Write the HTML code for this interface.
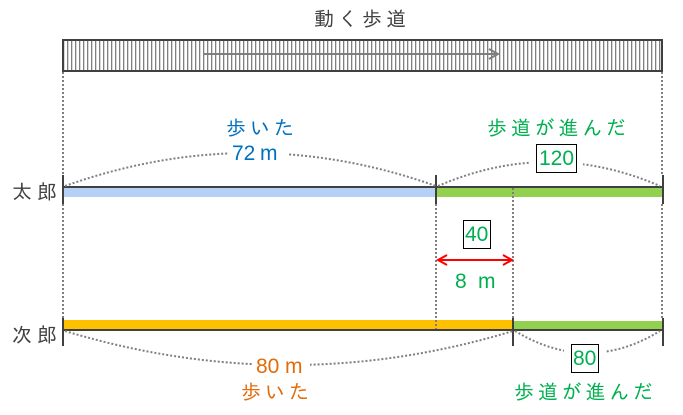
<!DOCTYPE html>
<html lang="ja"><head><meta charset="utf-8"><style>
html,body{margin:0;padding:0;background:#fff;width:683px;height:415px;overflow:hidden}
svg{display:block}
text{font-family:"IPAGothic","Noto Sans CJK JP",sans-serif;font-size:20px}
.m{font-family:"Liberation Sans",sans-serif;font-size:21px}
</style></head><body>
<svg width="683" height="415" viewBox="0 0 683 415" xmlns="http://www.w3.org/2000/svg">
<defs><pattern id="s" x="63" y="0" width="4" height="10" patternUnits="userSpaceOnUse"><rect x="0" y="0" width="1.3" height="10" fill="#7f7f7f"/></pattern></defs>
<rect x="62" y="39" width="601" height="33" fill="url(#s)"/>
<rect x="62" y="39" width="1" height="33" fill="#404040"/>
<g fill="none" stroke="#404040" stroke-width="2" shape-rendering="crispEdges"><rect x="63" y="40" width="599" height="31"/></g>
<g fill="none" stroke="#7f7f7f" stroke-width="2"><path d="M204 54H498M489 49L498 54L489 59"/></g>
<g stroke="#7f7f7f" stroke-width="2" stroke-dasharray="2 2" fill="none" shape-rendering="crispEdges">
<path d="M63 72V175M662 72V175M63 204V318M662 204V318M436 204V330M513 188V320"/>
</g>
<rect x="63" y="188" width="373" height="9" fill="#b4d1f5"/>
<rect x="436" y="188" width="227" height="9" fill="#92d050"/>
<rect x="63" y="320" width="450" height="9" fill="#ffc000"/>
<rect x="513" y="321" width="150" height="8" fill="#92d050"/>
<g stroke="#7f7f7f" stroke-width="2" stroke-dasharray="2 2" fill="none" shape-rendering="crispEdges"><path d="M436 320V330"/><path d="M513 188V197"/></g>
<g fill="#404040" shape-rendering="crispEdges">
<rect x="63" y="186" width="600" height="2"/><rect x="63" y="329" width="600" height="2"/>
<rect x="62" y="175" width="2" height="29"/><rect x="435" y="175" width="2" height="29"/><rect x="662" y="175" width="2" height="29"/>
<rect x="62" y="318" width="2" height="28"/><rect x="512" y="318" width="2" height="28"/><rect x="662" y="318" width="2" height="28"/>
</g>
<g fill="none" stroke="#7f7f7f" stroke-width="2" stroke-dasharray="2 2">
<path d="M65 186Q250 120 436 186"/><path d="M438 186Q549 138 660 186"/>
<path d="M65 331Q289 399 513 331"/><path d="M515 331Q588 375 660 331"/>
</g>
<rect x="228" y="142" width="60" height="22" fill="#fff"/>
<rect x="252" y="355" width="58" height="22" fill="#fff"/>
<rect x="530" y="144" width="53" height="30" fill="#fff"/>
<rect x="564" y="343" width="41" height="30" fill="#fff"/>
<g fill="#fff" stroke="#000" stroke-width="1" shape-rendering="crispEdges">
<rect x="536.5" y="144.5" width="40" height="28"/><rect x="463.5" y="220.5" width="27" height="28"/><rect x="571.5" y="344.5" width="27" height="28"/>
</g>
<g fill="none" stroke="#ff0000" stroke-width="2"><path d="M438 260H512M447 255L438 260L447 265M503 255L512 260L503 265"/></g>
<g fill="#404040">
<text x="314" y="26" letter-spacing="4">動く歩道</text>
<text x="12" y="199" letter-spacing="5">太郎</text>
<text x="12" y="342" letter-spacing="5">次郎</text>
</g>
<g fill="#0070c0">
<text x="226" y="135" letter-spacing="4">歩いた</text>
<text class="m" x="232" y="160">72</text>
<text class="m" x="260" y="160">m</text>
</g>
<g fill="#00b050">
<text x="487" y="135" letter-spacing="3.8">歩道が進んだ</text>
<text x="514" y="399" letter-spacing="3.8">歩道が進んだ</text>
<text class="m" x="539" y="165">120</text>
<text class="m" x="465" y="241">40</text>
<text class="m" x="573" y="365">80</text>
<text class="m" x="455" y="288">8</text>
<text class="m" x="478" y="288">m</text>
</g>
<g fill="#e26b0a">
<text class="m" x="256" y="373">80</text>
<text class="m" x="285" y="373">m</text>
<text x="241" y="399" letter-spacing="4">歩いた</text>
</g>
</svg>
</body></html>
